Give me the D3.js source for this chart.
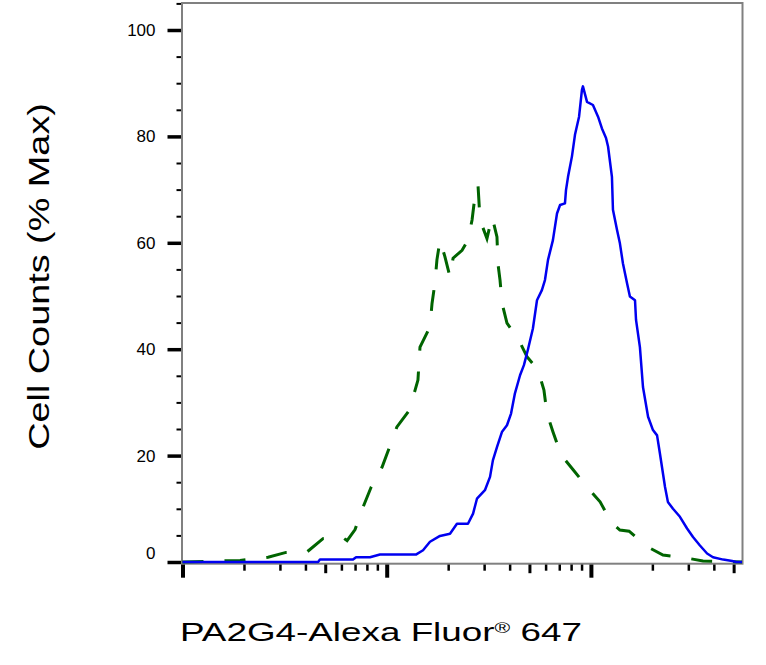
<!DOCTYPE html>
<html>
<head>
<meta charset="utf-8">
<title>PA2G4 histogram</title>
<script src="https://d3js.org/d3.v7.min.js"></script>
<style>
    body { margin: 0; background: white; }
    text { font-family: "Liberation Sans", Arial, sans-serif; fill: black; }
</style>
</head>
<body>
<div id="chart"></div>

<script>
// fluorescence is kept as log10(intensity), counts as % of max
const blueLog = [1.000, 1.664, 1.673, 1.835, 1.850, 1.918, 1.967, 2.143, 2.178, 2.212,
    2.261, 2.310, 2.344, 2.398, 2.423, 2.442, 2.481, 2.506, 2.520, 2.540,
    2.565, 2.589, 2.609, 2.628, 2.653, 2.672, 2.692, 2.716, 2.736, 2.760,
    2.775, 2.790, 2.814, 2.834, 2.849, 2.873, 2.878, 2.888, 2.907, 2.922,
    2.942, 2.956, 2.961, 2.981, 3.010, 3.035, 3.054, 3.074, 3.084, 3.103,
    3.108, 3.128, 3.142, 3.157, 3.177, 3.191, 3.216, 3.221, 3.240, 3.255,
    3.280, 3.304, 3.324, 3.338, 3.363, 3.377, 3.402, 3.436, 3.471, 3.500,
    3.534, 3.569, 3.598, 3.648, 3.692, 3.712, 3.740];
const blueCounts = [0, 0, 0.45, 0.45, 0.9, 0.9, 1.4, 1.4, 2.2, 3.8,
    4.9, 5.3, 7.2, 7.2, 9.1, 11.9, 13.5, 16, 19.1, 21.6,
    24.5, 25.7, 27.9, 31.7, 35.1, 37, 40, 43.9, 49.2, 51.1,
    53, 56.8, 60.5, 65.5, 67.1, 67.4, 69.9, 72.4, 76.2, 80.3,
    83.7, 88.7, 89.4, 86.5, 85.9, 83.7, 81.5, 79.7, 78.1, 72.4,
    66.2, 62.4, 59.9, 56.1, 52.4, 49.9, 49.2, 45.5, 40.4, 32.9,
    27.3, 24.8, 23.8, 20.4, 14.1, 11.3, 10, 8.5, 6.3, 4.7,
    3.1, 1.6, 0.9, 0.45, 0.2, 0, 0];

const greenLog = [1.000, 1.282, 1.419, 1.507, 1.610, 1.688, 1.781, 1.806, 1.845, 1.884,
    1.923, 1.977, 2.011, 2.050, 2.109, 2.139, 2.153, 2.163, 2.212, 2.222,
    2.236, 2.246, 2.261, 2.285, 2.310, 2.325, 2.369, 2.398, 2.418, 2.432,
    2.447, 2.457, 2.491, 2.516, 2.540, 2.545, 2.555, 2.565, 2.589, 2.643,
    2.687, 2.741, 2.770, 2.785, 2.814, 2.854, 2.912, 2.981, 3.045, 3.103,
    3.142, 3.187, 3.270, 3.353, 3.461, 3.549, 3.740];
const greenCounts = [0, 0.3, 0.9, 1.8, 1.9, 4.4, 4.7, 4.0, 6.1, 10.3,
    14, 17.8, 21.3, 25.4, 28.4, 32.3, 34.2, 40.4, 44.2, 48.6,
    52.4, 56.8, 60.5, 57.4, 53.6, 57.1, 58.6, 60.5, 64.3, 68.7,
    70.9, 64.3, 60.8, 64.9, 61.1, 56, 53, 48.6, 44.9, 42,
    38.6, 36.1, 32.3, 27.9, 24.5, 20.1, 17.4, 14.1, 11.3, 7.3,
    6, 5.8, 3, 1.3, 0.8, 0.2, 0];

const yMajorTicks = [0, 20, 40, 60, 80, 100];
const yMinorTicks = [5, 10, 15, 25, 30, 35, 45, 50, 55, 65, 70, 75, 85, 90, 95, 105];
const xMajorTicks = [10, 100, 1000];
const xMidTicks = [50, 500, 5000];
const xMinorTicks = [20, 30, 40, 60, 70, 80, 90, 200, 300, 400, 600, 700, 800, 900, 2000, 3000, 4000];

const xLabel = "PA2G4-Alexa Fluor";
const yLabel = "Cell Counts (% Max)";

// sizes
const W = 766, H = 665;
const plotL = 182.5, plotR = 742.5, plotT = 3, plotB = 563.7;

const svg = d3.select("#chart").append("svg")
    .attr("width", W)
    .attr("height", H);

const x = d3.scaleLog()
    .domain([10, Math.pow(10, 3.7424)])
    .range([plotL, plotR]);
const y = d3.scaleLinear()
    .domain([0, 105])
    .range([562, 3.4]);

// y axis ticks
const yMaj = svg.append("g")
    .attr("transform", "translate(" + plotL + ",0)")
    .call(d3.axisLeft(y).tickValues(yMajorTicks).tickSize(15).tickPadding(12));
yMaj.select(".domain").remove();
yMaj.selectAll("line").attr("stroke", "black").attr("stroke-width", 3.5);
yMaj.selectAll("text").style("font-size", "17px").attr("fill", "black");
yMaj.selectAll(".tick").filter(d => d === 0).select("text").attr("dy", "-0.2em");

const yMin = svg.append("g")
    .attr("transform", "translate(" + plotL + ",0)")
    .call(d3.axisLeft(y).tickValues(yMinorTicks).tickSize(6).tickFormat(""));
yMin.select(".domain").remove();
yMin.selectAll("line").attr("stroke", "black").attr("stroke-width", 2);

// x axis ticks (log, no labels)
function xTicks(vals, len, wd) {
    const g = svg.append("g")
        .attr("transform", "translate(0," + plotB + ")")
        .call(d3.axisBottom(x).tickValues(vals).tickSize(len).tickFormat(""));
    g.select(".domain").remove();
    g.selectAll("line").attr("stroke", "black").attr("stroke-width", wd);
}
xTicks(xMinorTicks, 7, 2.5);
xTicks(xMidTicks, 9.5, 3);
xTicks(xMajorTicks, 14, 4);

// frame
svg.append("rect")
    .attr("x", plotL - 0.5)
    .attr("y", plotT)
    .attr("width", plotR - plotL + 0.5)
    .attr("height", plotB - plotT)
    .attr("fill", "none")
    .attr("stroke", "#808080")
    .attr("stroke-width", 2);

// histograms
const line = d3.line()
    .x(d => x(Math.pow(10, d[0])))
    .y(d => y(d[1]));

svg.append("path")
    .datum(d3.zip(greenLog, greenCounts))
    .attr("fill", "none")
    .attr("stroke", "#006400")
    .attr("stroke-width", 3)
    .attr("stroke-dasharray", "21,21")
    .attr("d", line);

svg.append("path")
    .datum(d3.zip(blueLog, blueCounts))
    .attr("fill", "none")
    .attr("stroke", "#0000f0")
    .attr("stroke-width", 2.5)
    .attr("stroke-linejoin", "round")
    .attr("d", line);

// axis titles, stretched to the widths in the picture
const xg = svg.append("g");
const xt = xg.append("text").style("font-size", "26px");
xt.append("tspan").text(xLabel);
xt.append("tspan").text("\u00AE").style("font-size", "15px").attr("dy", -8);
xt.append("tspan").text(" 647").attr("dy", 8);
const xs = 402 / xt.node().getComputedTextLength();
xg.attr("transform", "translate(180,641) scale(" + xs + ",1)");

const yg = svg.append("g");
const yt = yg.append("text")
    .style("font-size", "30px")
    .attr("text-anchor", "middle")
    .text(yLabel);
const ys = 347 / yt.node().getComputedTextLength();
yg.attr("transform", "translate(48.5,276.5) rotate(-90) scale(" + ys + ",1)");

</script>
</body>
</html>
